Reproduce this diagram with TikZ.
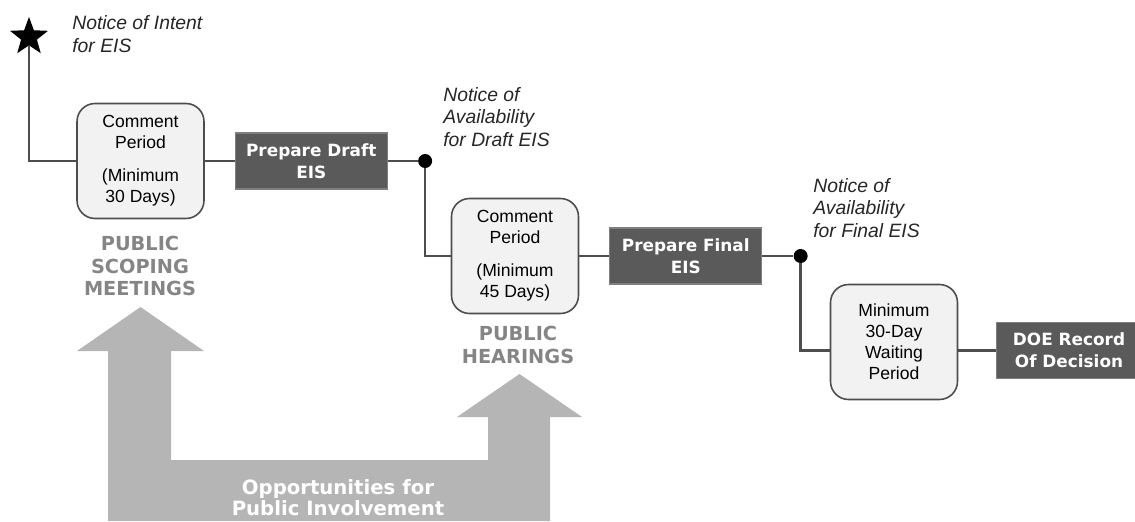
\documentclass[tikz,border=0pt]{standalone}
\usepackage{fontspec}
\setmainfont{Liberation Sans}
\newfontfamily\widefont{DejaVu Sans}
\usepackage{tikz}
\usetikzlibrary{positioning, shapes.geometric, calc}
\usepackage{xcolor}
\definecolor{LineGray}{HTML}{4D4D4D}
\definecolor{BoxFill}{HTML}{F2F2F2}
\definecolor{DarkFill}{HTML}{5A5A5A}
\definecolor{DarkEdge}{HTML}{7F7F7F}
\definecolor{LabelGray}{HTML}{858585}
\definecolor{ArrowGray}{HTML}{B5B5B5}
\definecolor{NoteText}{HTML}{262626}
\tikzset{
  cbox/.style={draw=LineGray, line width=0.9pt, rounded corners=0.36cm, align=center,
    minimum width=2.54cm, minimum height=2.3cm, inner sep=0pt, fill=BoxFill,
    font=\fontsize{10}{11.9}\selectfont},
  dbox/.style={draw=DarkEdge, line width=0.6pt, align=center, text=white,
    minimum width=3.04cm, minimum height=1.12cm, inner sep=0pt, fill=DarkFill,
    font=\widefont\bfseries\fontsize{9.6}{12.5}\selectfont},
  note/.style={anchor=west, align=left, text=NoteText, inner sep=0pt,
    font=\itshape\fontsize{11}{13}\selectfont},
  plabel/.style={align=center, text=LabelGray, inner sep=0pt,
    font=\widefont\bfseries\fontsize{11}{13}\selectfont},
  dot/.style={circle, fill=black, minimum size=0.28cm, inner sep=0pt},
  link/.style={draw=LineGray, line width=1.4pt},
}

\begin{document}
\begin{tikzpicture}[x=0.02cm, y=-0.02cm]
    \useasboundingbox (0,0) rectangle (1135,521);
    % opportunities arrow
    \fill[ArrowGray] (108,521) -- (108,351) -- (77,351) -- (140.5,307) -- (204,351)
      -- (171,351) -- (171,460) -- (488,460) -- (488,417) -- (457,417) -- (519.5,374)
      -- (582,417) -- (550,417) -- (550,521) -- cycle;
    \node[text=white, align=center, inner sep=0pt,
      font=\widefont\bfseries\fontsize{11.2}{11.8}\selectfont] (opp) at (338,498)
      {Opportunities for\\Public Involvement};

    \node[star, star points=5, star point ratio=2.4, fill=black, minimum size=0.8cm,
      inner sep=0pt] (noi) at (29,37) {};
    \node[note] (noiT) at (72,34) {Notice of Intent\\for EIS};

    \node[cbox] (cp1) at (140.5,161) {Comment\\Period\\[7pt](Minimum\\30 Days)};
    \node[dbox, right=0.6cm of cp1] (dr1) {Prepare Draft\\EIS};
    \node[dot, right=0.6cm of dr1] (d1) {};
    \node[note] (noaD) at (443,117) {Notice of\\Availability\\for Draft EIS};
    \node[plabel] (psm) at (140,266) {PUBLIC\\SCOPING\\MEETINGS};

    \node[cbox] (cp2) at (515,256) {Comment\\Period\\[7pt](Minimum\\45 Days)};
    \node[dbox, right=0.6cm of cp2] (fi) {Prepare Final\\EIS};
    \node[dot, right=0.62cm of fi] (d2) {};
    \node[note] (noaF) at (813,208) {Notice of\\Availability\\for Final EIS};
    \node[plabel] (ph) at (518,345) {PUBLIC\\HEARINGS};

    \node[cbox] (wp) at (894,342) {Minimum\\30-Day\\Waiting\\Period};
    \node[dbox, minimum width=2.92cm] (rod) at (1069,350.5) {DOE Record\\Of Decision};

    \draw[link] (noi.south) |- (cp1.west);
    \draw[link] (cp1) -- (dr1);
    \draw[link] (dr1) -- (d1);
    \draw[link] (d1) |- (cp2);
    \draw[link] (cp2) -- (fi);
    \draw[link] (fi) -- (d2);
    \draw[link] (d2) |- (wp.west |- rod.west);
    \draw[link] (wp.east |- rod.west) -- (rod);
  \end{tikzpicture}
\end{document}
